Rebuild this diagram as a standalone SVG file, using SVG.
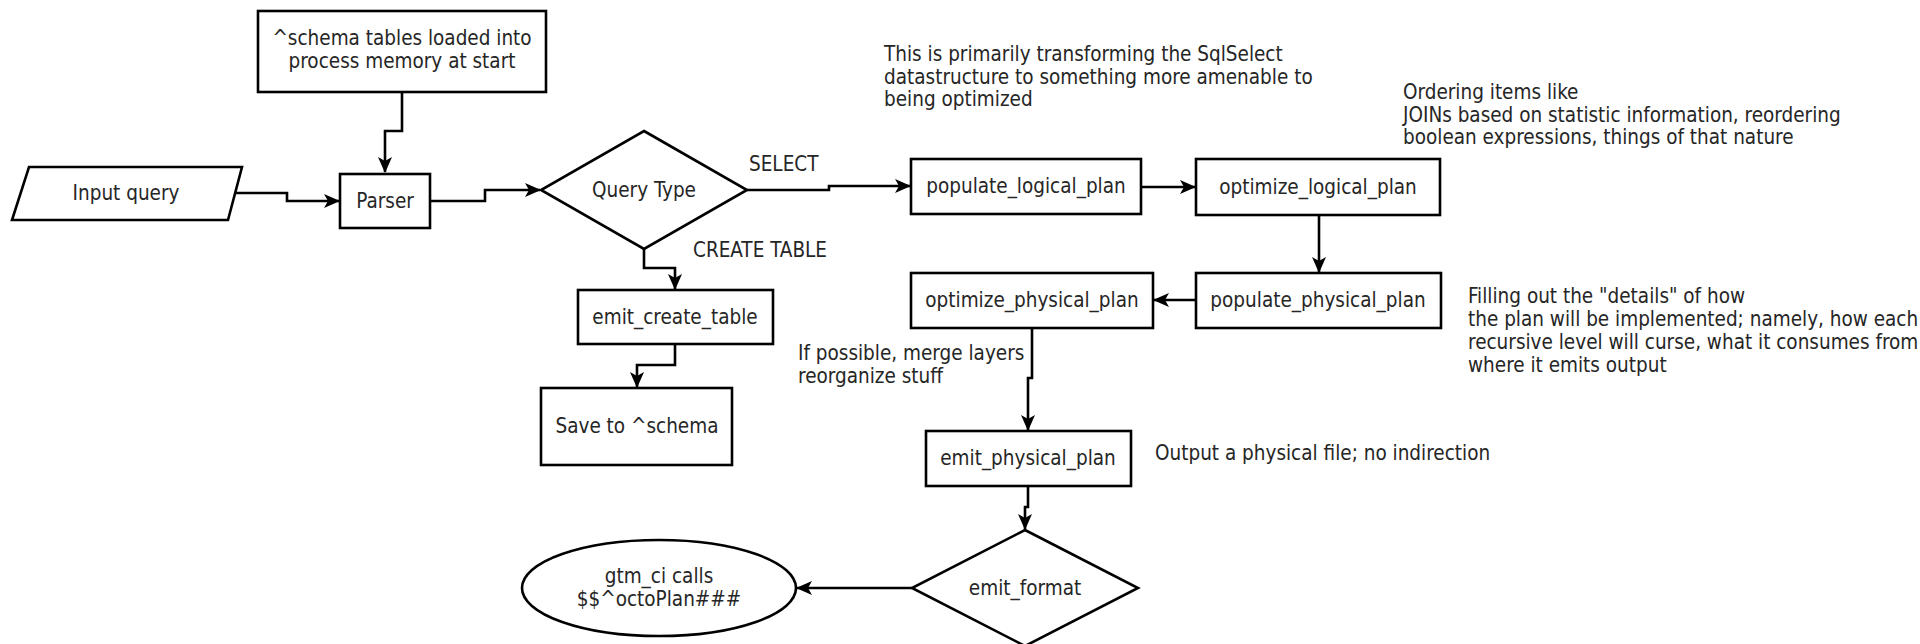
<svg xmlns="http://www.w3.org/2000/svg" width="1920" height="644" viewBox="0 0 1920 644">
<style>
.n{fill:#fff;stroke:#000;stroke-width:2.6}
.t{font-family:"DejaVu Sans Condensed","DejaVu Sans",sans-serif;font-size:20.5px;fill:#262626;text-anchor:middle;dominant-baseline:central}
.a{font-family:"DejaVu Sans Condensed","DejaVu Sans",sans-serif;font-size:20.5px;fill:#262626;dominant-baseline:central}
.c{fill:none;stroke:#000;stroke-width:2.6}
</style>
<defs>
<marker id="ar" viewBox="0 0 16 14" refX="15" refY="7" markerWidth="16" markerHeight="14" markerUnits="userSpaceOnUse" orient="auto">
<path d="M0,0 L16,7 L0,14 L4,7 Z" fill="#000"/>
</marker>
</defs>
<rect width="1920" height="644" fill="#fff"/>
<g id="connectors">
<polyline class="c" points="402,92 402,131 385,131 385,172" marker-end="url(#ar)"/>
<polyline class="c" points="233,193 287,193 287,201 339,201" marker-end="url(#ar)"/>
<polyline class="c" points="430,201 485,201 485,190 540,190" marker-end="url(#ar)"/>
<polyline class="c" points="747,190 829,190 829,186 910,186" marker-end="url(#ar)"/>
<polyline class="c" points="1141,187 1195,187" marker-end="url(#ar)"/>
<polyline class="c" points="1319,215 1319,272" marker-end="url(#ar)"/>
<polyline class="c" points="1196,300 1154,300" marker-end="url(#ar)"/>
<polyline class="c" points="1032,328 1032,378 1028,378 1028,430" marker-end="url(#ar)"/>
<polyline class="c" points="1028,486 1028,507 1025,507 1025,529" marker-end="url(#ar)"/>
<polyline class="c" points="912,588 797,588" marker-end="url(#ar)"/>
<polyline class="c" points="644,249 644,268 675,268 675,289" marker-end="url(#ar)"/>
<polyline class="c" points="675,344 675,365 637,365 637,387" marker-end="url(#ar)"/>
<text class="a" x="749" y="164">SELECT</text>
<text class="a" x="693" y="250">CREATE TABLE</text>
</g>
<g id="schema">
<rect class="n" x="258" y="11" width="288" height="81"/>
<text class="t" x="402" y="38">^schema tables loaded into</text>
<text class="t" x="402" y="61">process memory at start</text>
</g>
<g id="input">
<polygon class="n" points="29,167 242,167 228,220 12,220"/>
<text class="t" x="126" y="193">Input query</text>
</g>
<g id="parser">
<rect class="n" x="340" y="174" width="90" height="54"/>
<text class="t" x="385" y="201">Parser</text>
</g>
<g id="querytype">
<polygon class="n" points="644,131 747,190 644,249 541,190"/>
<text class="t" x="644" y="190">Query Type</text>
</g>
<g id="populate_logical">
<rect class="n" x="911" y="159" width="230" height="55"/>
<text class="t" x="1026" y="186">populate_logical_plan</text>
</g>
<g id="optimize_logical">
<rect class="n" x="1196" y="159" width="244" height="56"/>
<text class="t" x="1318" y="187">optimize_logical_plan</text>
</g>
<g id="populate_physical">
<rect class="n" x="1196" y="273" width="245" height="55"/>
<text class="t" x="1318" y="300">populate_physical_plan</text>
</g>
<g id="optimize_physical">
<rect class="n" x="911" y="273" width="242" height="55"/>
<text class="t" x="1032" y="300">optimize_physical_plan</text>
</g>
<g id="emit_create">
<rect class="n" x="578" y="290" width="195" height="54"/>
<text class="t" x="675" y="317">emit_create_table</text>
</g>
<g id="save_schema">
<rect class="n" x="541" y="388" width="191" height="77"/>
<text class="t" x="637" y="426">Save to ^schema</text>
</g>
<g id="emit_physical">
<rect class="n" x="926" y="431" width="205" height="55"/>
<text class="t" x="1028" y="458">emit_physical_plan</text>
</g>
<g id="emit_format">
<polygon class="n" points="1025,530 1138,588 1025,646 912,588"/>
<text class="t" x="1025" y="588">emit_format</text>
</g>
<g id="gtm">
<ellipse class="n" cx="659" cy="588" rx="137" ry="48"/>
<text class="t" x="659" y="576">gtm_ci calls</text>
<text class="t" x="659" y="599">$$^octoPlan###</text>
</g>
<g id="notes">
<text class="a" x="884" y="54">This is primarily transforming the SqlSelect</text>
<text class="a" x="884" y="76.5">datastructure to something more amenable to</text>
<text class="a" x="884" y="99">being optimized</text>
<text class="a" x="1403" y="92">Ordering items like</text>
<text class="a" x="1403" y="114.5">JOINs based on statistic information, reordering</text>
<text class="a" x="1403" y="137">boolean expressions, things of that nature</text>
<text class="a" x="1468" y="296">Filling out the "details" of how</text>
<text class="a" x="1468" y="319">the plan will be implemented; namely, how each</text>
<text class="a" x="1468" y="342">recursive level will curse, what it consumes from</text>
<text class="a" x="1468" y="365">where it emits output</text>
<text class="a" x="798" y="353">If possible, merge layers</text>
<text class="a" x="798" y="376">reorganize stuff</text>
<text class="a" x="1155" y="453">Output a physical file; no indirection</text>
</g>
</svg>
